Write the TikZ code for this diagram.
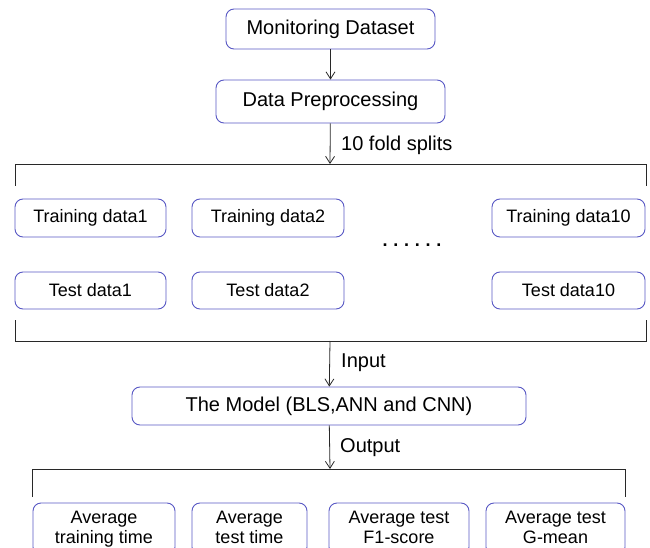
\documentclass[tikz,border=0pt]{standalone}
\usepackage{fontspec}
\setmainfont{Liberation Sans}
\usetikzlibrary{arrows.meta}
\definecolor{boxc}{RGB}{88,88,196}
\definecolor{linec}{RGB}{40,40,40}
\tikzset{
  box/.style={draw=boxc, line width=0.9pt, rounded corners=8pt, inner sep=0pt,
    align=center, text=black},
  bigtext/.style={font=\fontsize{20}{24}\selectfont},
  smalltext/.style={font=\fontsize{18}{20}\selectfont},
  arr/.style={draw=linec, line width=0.8pt, -{Straight Barb[length=7pt,width=9pt]}},
  brk/.style={draw=linec, line width=0.8pt},
  lbl/.style={anchor=west, inner sep=0pt, font=\fontsize{20}{24}\selectfont}
}
\begin{document}
\begin{tikzpicture}[x=1pt, y=-1pt]
\useasboundingbox (0,0) rectangle (650,548);
\clip (0,0) rectangle (650,548);

% pipeline head
\node[box, bigtext, minimum width=209pt, minimum height=40pt] (mon) at (330.5,29) {Monitoring Dataset};
\node[box, bigtext, minimum width=229pt, minimum height=43pt] (pre) at (330.5,101.5) {Data Preprocessing};

% bracket over the ten folds
\coordinate (topmid) at (330,164);
\draw[brk] (15,186) -- (15,164) -- (646,164) -- (646,186);

% folds
\node[box, smalltext, minimum width=151pt, minimum height=38pt] (tr1) at (90.5,218) {Training data1};
\node[box, smalltext, minimum width=152pt, minimum height=38pt] (tr2) at (268,218) {Training data2};
\node[box, smalltext, minimum width=153pt, minimum height=38pt] (tr10) at (568.5,218) {Training data10};
\node[box, smalltext, minimum width=151pt, minimum height=37pt] (te1) at (90.5,290.5) {Test data1};
\node[box, smalltext, minimum width=152pt, minimum height=37pt] (te2) at (268,290.5) {Test data2};
\node[box, smalltext, minimum width=153pt, minimum height=37pt] (te10) at (568.5,290.5) {Test data10};
\node[inner sep=0pt, font=\fontsize{18}{20}\selectfont\bfseries\addfontfeature{LetterSpace=32}] (dots) at (412,245) {......};

% bracket under the folds
\coordinate (botmid) at (330,341);
\draw[brk] (15,320) -- (15,341) -- (646,341) -- (646,320);

% model
\node[box, bigtext, minimum width=394pt, minimum height=38pt] (model) at (329,406) {The Model (BLS,ANN and CNN)};

% bracket over the results
\coordinate (outmid) at (330,469);
\draw[brk] (32,497) -- (32,469) -- (625,469) -- (625,497);

% results (their lower edges run past the page)
\node[box, smalltext, minimum width=142pt, minimum height=52pt] (r1) at (104,529) {Average\strut\\training time\strut};
\node[box, smalltext, minimum width=115pt, minimum height=52pt] (r2) at (249.5,529) {Average\strut\\test time\strut};
\node[box, smalltext, minimum width=140pt, minimum height=52pt] (r3) at (399,529) {Average test\strut\\F1-score\strut};
\node[box, smalltext, minimum width=139pt, minimum height=52pt] (r4) at (555.5,529) {Average test\strut\\G-mean\strut};

% connectors
\draw[arr] (mon) -- (pre);
\draw[arr] (pre) -- (topmid);
\draw[arr] (botmid) -- (model);
\draw[arr] (model) -- (outmid);

% connector labels
\node[lbl] (lsplit) at (341,145) {10 fold splits};
\node[lbl] (linput) at (341,363) {Input};
\node[lbl] (loutput) at (340,448) {Output};
\end{tikzpicture}
\end{document}
